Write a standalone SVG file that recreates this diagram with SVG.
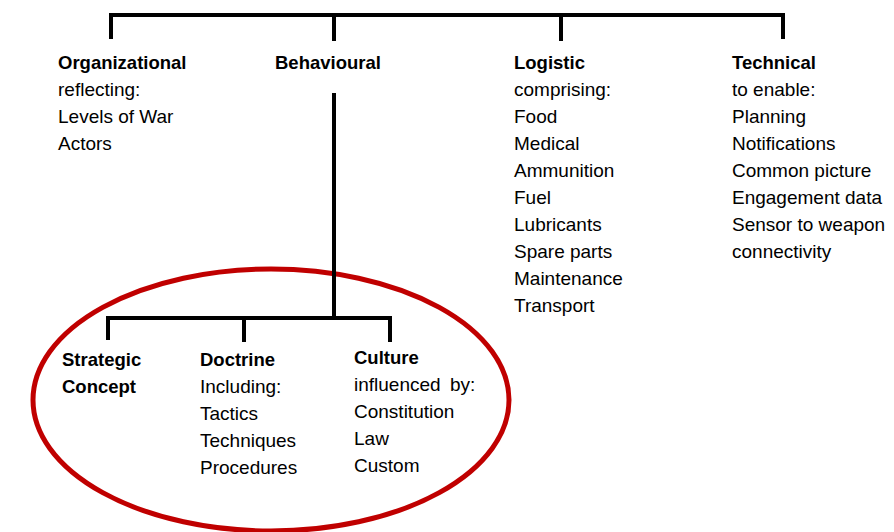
<svg xmlns="http://www.w3.org/2000/svg" width="894" height="532" viewBox="0 0 894 532">
<style>
text{font-family:"Liberation Sans","Open Sans",sans-serif;font-size:19px;fill:#000}
.b{font-weight:bold;font-size:18.5px}
.c{stroke:#000;stroke-width:4;fill:none;stroke-linecap:square}
</style>
<rect width="894" height="532" fill="#fff"/>
<g id="ellipse"><ellipse cx="271" cy="400" rx="238" ry="131" fill="none" stroke="#C00000" stroke-width="5"/></g>
<g id="connectors">
<path class="c" d="M111,37 V15 H783 V37 M334,15 V39 M561,15 V39"/>
<path class="c" d="M334,95 V318 M108,338 V318 H390 V340 M244,318 V340"/>
</g>
<g id="organizational"><text x="58" y="69"><tspan class="b">Organizational</tspan><tspan x="58" dy="27">reflecting:</tspan><tspan x="58" dy="27">Levels of War</tspan><tspan x="58" dy="27">Actors</tspan></text></g>
<g id="behavioural"><text x="275" y="69" class="b">Behavioural</text></g>
<g id="logistic"><text x="514" y="69"><tspan class="b">Logistic</tspan><tspan x="514" dy="27">comprising:</tspan><tspan x="514" dy="27">Food</tspan><tspan x="514" dy="27">Medical</tspan><tspan x="514" dy="27">Ammunition</tspan><tspan x="514" dy="27">Fuel</tspan><tspan x="514" dy="27">Lubricants</tspan><tspan x="514" dy="27">Spare parts</tspan><tspan x="514" dy="27">Maintenance</tspan><tspan x="514" dy="27">Transport</tspan></text></g>
<g id="technical"><text x="732" y="69"><tspan class="b">Technical</tspan><tspan x="732" dy="27">to enable:</tspan><tspan x="732" dy="27">Planning</tspan><tspan x="732" dy="27">Notifications</tspan><tspan x="732" dy="27">Common picture</tspan><tspan x="732" dy="27">Engagement data</tspan><tspan x="732" dy="27">Sensor to weapon</tspan><tspan x="732" dy="27">connectivity</tspan></text></g>
<g id="strategic"><text x="62" y="366" class="b"><tspan>Strategic</tspan><tspan x="62" dy="27">Concept</tspan></text></g>
<g id="doctrine"><text x="200" y="366"><tspan class="b">Doctrine</tspan><tspan x="200" dy="27">Including:</tspan><tspan x="200" dy="27">Tactics</tspan><tspan x="200" dy="27">Techniques</tspan><tspan x="200" dy="27">Procedures</tspan></text></g>
<g id="culture"><text x="354" y="364"><tspan class="b">Culture</tspan><tspan x="354" dy="27" word-spacing="4">influenced by:</tspan><tspan x="354" dy="27">Constitution</tspan><tspan x="354" dy="27">Law</tspan><tspan x="354" dy="27">Custom</tspan></text></g>
</svg>
